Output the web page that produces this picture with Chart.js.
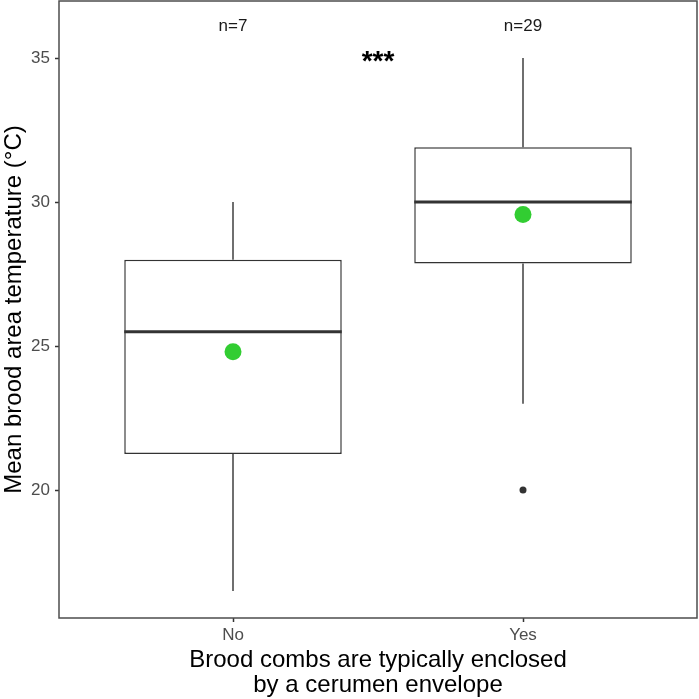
<!DOCTYPE html>
<html>
<head>
<meta charset="utf-8">
<script src="https://cdn.jsdelivr.net/npm/chart.js@4"></script>
<style>
  body { margin: 0; background: #fff; }
</style>
</head>
<body>
<canvas id="chart" width="699" height="699"></canvas>
<script>
// Дані
const categories = ['No', 'Yes'];
const whiskerLow = [16.5, 23];
const q1 = [21.25, 27.87];
const median = [25.5, 30];
const q3 = [28, 31.9];
const whiskerHigh = [30, 35];
const means = [24.8, 29.57];
const outliers = [[], [20]];
const counts = ['n=7', 'n=29'];
const yTicks = [20, 25, 30, 35];

const BOX_HALF = 0.375;
const INK = '#333333';
const FONT = '"Liberation Sans", Arial, sans-serif';

// Координати категорій: 1, 2, ...
const xs = categories.map((c, i) => i + 1);

function segments(getA, getB, dx) {
  const pts = [];
  xs.forEach((x, i) => {
    pts.push({ x: x - dx, y: getA(i) });
    pts.push({ x: x + dx, y: getB(i) });
    pts.push({ x: x, y: null });
  });
  return pts;
}

// Рамка, підписи n= та зірочки
const annotations = {
  id: 'annotations',
  afterDraw(chart) {
    const { ctx, chartArea, scales } = chart;
    ctx.save();
    ctx.strokeStyle = '#4d4d4d';
    ctx.lineWidth = 1.5;
    ctx.strokeRect(chartArea.left, chartArea.top, chartArea.right - chartArea.left, chartArea.bottom - chartArea.top);
    ctx.fillStyle = '#1a1a1a';
    ctx.textAlign = 'center';
    ctx.textBaseline = 'alphabetic';
    ctx.font = '17px ' + FONT;
    counts.forEach((t, i) => {
      ctx.fillText(t, scales.x.getPixelForValue(xs[i]), scales.y.getPixelForValue(35.94));
    });
    ctx.fillStyle = '#000';
    ctx.font = 'bold 28px ' + FONT;
    ctx.fillText('***', scales.x.getPixelForValue(1.5), scales.y.getPixelForValue(34.58));
    ctx.restore();
  }
};

new Chart(document.getElementById('chart'), {
  type: 'bar',
  data: {
    datasets: [
      {
        type: 'bar',
        label: 'box',
        data: xs.map((x, i) => ({ x: x, y: [q1[i], q3[i]] })),
        backgroundColor: '#ffffff',
        borderColor: INK,
        borderWidth: 1.5,
        borderSkipped: false,
        barPercentage: 0.75,
        categoryPercentage: 1,
        order: 5
      },
      {
        type: 'line',
        label: 'whiskers',
        data: [
          ...segments(i => whiskerLow[i], i => q1[i], 0),
          ...segments(i => q3[i], i => whiskerHigh[i], 0)
        ],
        borderColor: INK,
        borderWidth: 1.4,
        pointRadius: 0,
        spanGaps: false,
        order: 4
      },
      {
        type: 'line',
        label: 'median',
        data: segments(i => median[i], i => median[i], BOX_HALF),
        borderColor: INK,
        borderWidth: 3,
        pointRadius: 0,
        spanGaps: false,
        order: 3
      },
      {
        type: 'scatter',
        label: 'outliers',
        data: outliers.flatMap((vals, i) => vals.map(v => ({ x: xs[i], y: v }))),
        backgroundColor: INK,
        borderWidth: 0,
        pointRadius: 3.5,
        order: 2
      },
      {
        type: 'scatter',
        label: 'mean',
        data: xs.map((x, i) => ({ x: x, y: means[i] })),
        backgroundColor: '#32cd32',
        borderWidth: 0,
        pointRadius: 8.5,
        order: 1
      }
    ]
  },
  options: {
    responsive: false,
    animation: false,
    layout: { autoPadding: false, padding: { top: 1, right: 2, left: 0, bottom: 0 } },
    plugins: {
      legend: { display: false },
      tooltip: { enabled: false }
    },
    scales: {
      x: {
        type: 'linear',
        min: 0.4,
        max: 2.6,
        offset: false,
        afterBuildTicks: scale => { scale.ticks = xs.map(v => ({ value: v })); },
        afterFit: scale => {
          scale.height = 81;
          scale.paddingLeft = 0;
          scale.paddingRight = 0;
        },
        grid: { drawOnChartArea: false, offset: false, tickLength: 4, tickWidth: 1.5, tickColor: INK },
        border: { display: false },
        ticks: {
          color: '#4d4d4d',
          font: { size: 17, family: FONT },
          padding: 3,
          callback: v => categories[v - 1]
        },
        title: {
          display: true,
          text: ['Brood combs are typically enclosed', 'by a cerumen envelope'],
          color: '#000',
          font: { size: 24, family: FONT, lineHeight: 1.04 },
          padding: { top: 0, bottom: 1 }
        }
      },
      y: {
        min: 15.56,
        max: 36.98,
        afterBuildTicks: scale => { scale.ticks = yTicks.map(v => ({ value: v })); },
        afterFit: scale => {
          scale.width = 59;
          scale.paddingTop = 0;
          scale.paddingBottom = 0;
        },
        grid: { drawOnChartArea: false, tickLength: 4, tickWidth: 1.5, tickColor: INK },
        border: { display: false },
        ticks: {
          color: '#4d4d4d',
          font: { size: 17, family: FONT },
          padding: 5
        },
        title: {
          display: true,
          text: 'Mean brood area temperature (°C)',
          color: '#000',
          font: { size: 24, family: FONT },
          padding: { top: 0, bottom: 0 }
        }
      }
    }
  },
  plugins: [annotations]
});
</script>
</body>
</html>
